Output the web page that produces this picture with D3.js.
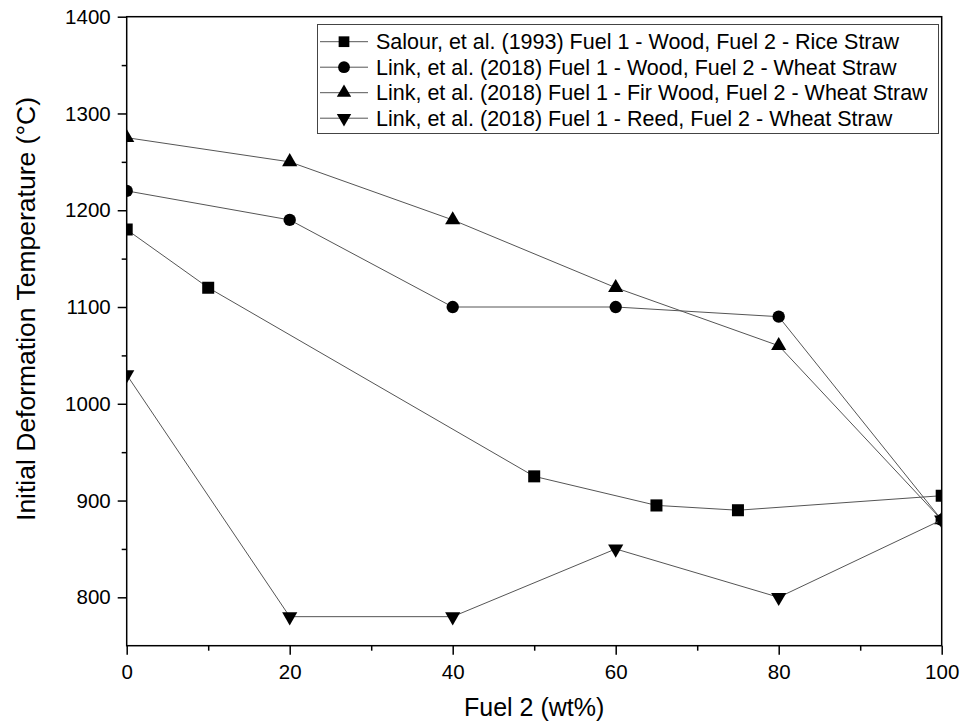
<!DOCTYPE html>
<html>
<head>
<meta charset="utf-8">
<script src="https://cdn.jsdelivr.net/npm/d3@7"></script>
<style>
  body { margin: 0; background: #fff; }
  svg { display: block; font-family: Arial, "Liberation Sans", sans-serif; }
</style>
</head>
<body>
<svg id="chart" width="963" height="725"></svg>
<script>
// Fuel 2 share (wt%) for each series
const salourX = [0, 10, 50, 65, 75, 100];
const salourY = [1180, 1120, 925, 895, 890, 905];
const linkWoodX = [0, 20, 40, 60, 80, 100];
const linkWoodY = [1220, 1190, 1100, 1100, 1090, 880];
const linkFirX = [0, 20, 40, 60, 80, 100];
const linkFirY = [1275, 1250, 1190, 1120, 1060, 880];
const linkReedX = [0, 20, 40, 60, 80, 100];
const linkReedY = [1030, 780, 780, 850, 800, 880];

const seriesNames = [
  "Salour, et al. (1993) Fuel 1 - Wood, Fuel 2 - Rice Straw",
  "Link, et al. (2018) Fuel 1 - Wood, Fuel 2 - Wheat Straw",
  "Link, et al. (2018) Fuel 1 - Fir Wood, Fuel 2 - Wheat Straw",
  "Link, et al. (2018) Fuel 1 - Reed, Fuel 2 - Wheat Straw"
];
const xTicks = [0, 20, 40, 60, 80, 100];
const yTicks = [800, 900, 1000, 1100, 1200, 1300, 1400];

const series = [
  { name: seriesNames[0], xs: salourX, ys: salourY, shape: "square" },
  { name: seriesNames[1], xs: linkWoodX, ys: linkWoodY, shape: "circle" },
  { name: seriesNames[2], xs: linkFirX, ys: linkFirY, shape: "up" },
  { name: seriesNames[3], xs: linkReedX, ys: linkReedY, shape: "down" }
];

const svg = d3.select("#chart");
const plotL = 126.7, plotR = 941.7, plotT = 16.7, plotB = 645.7;

const x = d3.scaleLinear().domain([0, 100]).range([plotL, plotR]);
const y = d3.scaleLinear().domain([750, 1400]).range([plotB, plotT]);

// marker path generators
const symbolFor = {
  square: d3.symbol().type(d3.symbolSquare).size(144),
  circle: d3.symbol().type(d3.symbolCircle).size(120),
  up: d3.symbol().type(d3.symbolTriangle).size(100),
  down: d3.symbol().type(d3.symbolTriangle).size(100)
};
const legendSymbolFor = {
  square: d3.symbol().type(d3.symbolSquare).size(115),
  circle: d3.symbol().type(d3.symbolCircle).size(110),
  up: d3.symbol().type(d3.symbolTriangle).size(90),
  down: d3.symbol().type(d3.symbolTriangle).size(90)
};
function markerTransform(shape, px, py) {
  return shape === "down" ? `translate(${px},${py}) rotate(180)` : `translate(${px},${py})`;
}

svg.append("clipPath").attr("id", "plotClip")
  .append("rect").attr("x", plotL).attr("y", plotT)
  .attr("width", plotR - plotL).attr("height", plotB - plotT);

const plot = svg.append("g").attr("clip-path", "url(#plotClip)");
const line = d3.line();

series.forEach(s => {
  const pts = s.xs.map((v, i) => [x(v), y(s.ys[i])]);
  plot.append("path")
    .attr("d", line(pts))
    .attr("fill", "none")
    .attr("stroke", "#555")
    .attr("stroke-width", 1);
  plot.selectAll(null).data(pts).enter().append("path")
    .attr("d", symbolFor[s.shape]())
    .attr("transform", d => markerTransform(s.shape, d[0], d[1]))
    .attr("fill", "#000");
});

// axes
const fmt = d3.format("d");
const xAxis = d3.axisBottom(x).tickValues(xTicks).tickFormat(fmt).tickSize(9).tickPadding(10);
const xMinor = d3.axisBottom(x).tickValues([10, 30, 50, 70, 90]).tickSize(5).tickFormat("");
const yAxis = d3.axisLeft(y).tickValues(yTicks).tickFormat(fmt).tickSize(9).tickPadding(7);
const yMinor = d3.axisLeft(y).tickValues([850, 950, 1050, 1150, 1250, 1350]).tickSize(5).tickFormat("");

function styleAxis(g) {
  g.select(".domain").remove();
  g.selectAll("line").attr("stroke", "#000").attr("stroke-width", 1.5);
  g.selectAll("text").attr("fill", "#000").style("font-size", "20.5px")
    .style("font-family", "Arial, 'Liberation Sans', sans-serif");
}

svg.append("g").attr("transform", `translate(0,${plotB})`).call(xAxis).call(styleAxis);
svg.append("g").attr("transform", `translate(0,${plotB})`).call(xMinor).call(styleAxis);
svg.append("g").attr("transform", `translate(${plotL},0)`).call(yAxis).call(styleAxis);
svg.append("g").attr("transform", `translate(${plotL},0)`).call(yMinor).call(styleAxis);

// frame
svg.append("rect")
  .attr("x", plotL).attr("y", plotT)
  .attr("width", plotR - plotL).attr("height", plotB - plotT)
  .attr("fill", "none").attr("stroke", "#000").attr("stroke-width", 1.5);

// axis titles
svg.append("text")
  .attr("x", (plotL + plotR) / 2).attr("y", 716)
  .attr("text-anchor", "middle")
  .style("font-size", "25px")
  .text("Fuel 2 (wt%)");
svg.append("text")
  .attr("transform", `translate(35,309) rotate(-90)`)
  .attr("text-anchor", "middle")
  .style("font-size", "26.5px")
  .text("Initial Deformation Temperature (°C)");

// legend
const legend = svg.append("g");
legend.append("rect")
  .attr("x", 317.5).attr("y", 24.5).attr("width", 621).attr("height", 109)
  .attr("fill", "#fff").attr("stroke", "#444").attr("stroke-width", 1);
series.forEach((s, i) => {
  const cy = 41.7 + i * 25.5;
  legend.append("line")
    .attr("x1", 320).attr("x2", 368).attr("y1", cy).attr("y2", cy)
    .attr("stroke", "#555").attr("stroke-width", 1);
  legend.append("path")
    .attr("d", legendSymbolFor[s.shape]())
    .attr("transform", markerTransform(s.shape, 344, cy))
    .attr("fill", "#000");
  legend.append("text")
    .attr("x", 376).attr("y", cy + 7.5)
    .style("font-size", "21.5px")
    .text(s.name);
});
</script>
</body>
</html>
